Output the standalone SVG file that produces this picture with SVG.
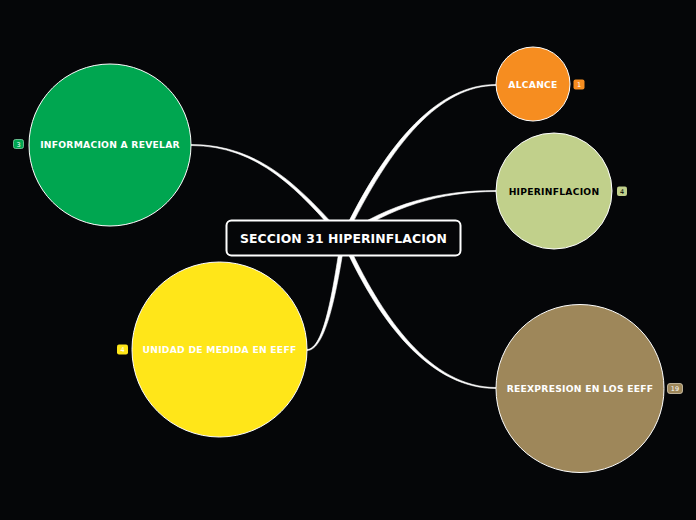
<svg xmlns="http://www.w3.org/2000/svg" width="696" height="520" viewBox="0 0 696 520">
<style>
.lbl{font-family:"DejaVu Sans","Verdana",sans-serif;font-weight:bold;font-size:9.2px;letter-spacing:0.25px;text-anchor:middle}
.badge{font-family:"DejaVu Sans",sans-serif;font-size:6.5px;text-anchor:middle}
.node{stroke:#ffffff;stroke-width:1}
.conn{fill:#ffffff;stroke:#ffffff;stroke-width:0.6}
</style>
<rect x="0" y="0" width="696" height="520" fill="#050608"/>
<g id="connectors">
<path class="conn" d="M341.2,237.1 C388,139 439,84.5 496,84.5 L496,85.5 C441,85.5 392,141 344.8,238.9 Z"/>
<path class="conn" d="M341.9,236.4 C389,203 440,190.5 496,190.5 L496,191.5 C440,191.5 391,207 344.1,239.6 Z"/>
<path class="conn" d="M344.8,237.2 C382,319 431,387.5 496,387.5 L496,388.5 C429,388.5 378,321 341.2,238.8 Z"/>
<path class="conn" d="M345,238.3 C337,290 326,350.5 307,350.5 L307,349.5 C324,349.5 333,290 341,237.7 Z"/>
<path class="conn" d="M344.5,236.7 C301,189 261,144.5 191,144.5 L191,145.5 C259,145.5 299,191 341.5,239.3 Z"/>
</g>
<g id="center">
<rect x="226.5" y="220.5" width="234" height="35" rx="5" fill="#050608" stroke="#ffffff" stroke-width="2"/>
<text x="343.5" y="243" class="lbl" style="font-size:12.4px;letter-spacing:0.1px" fill="#ffffff">SECCION 31 HIPERINFLACION</text>
</g>
<g id="informacion">
<circle class="node" cx="110" cy="145" r="81" fill="#00a650"/>
<text x="110" y="148" class="lbl" fill="#ffffff">INFORMACION A REVELAR</text>
<rect x="13.5" y="139.5" width="10" height="9" rx="2" fill="#00a650" stroke="#7fd3a6" stroke-width="0.8"/>
<text x="18.5" y="146.5" class="badge" fill="#ffffff">3</text>
</g>
<g id="unidad">
<circle class="node" cx="219.5" cy="349.5" r="87.5" fill="#ffe619"/>
<text x="219.5" y="353" class="lbl" fill="#ffffff">UNIDAD DE MEDIDA EN EEFF</text>
<rect x="117" y="344.5" width="11" height="10" rx="2" fill="#ffe619"/>
<text x="122.5" y="351.9" class="badge" fill="#ffffff">4</text>
</g>
<g id="alcance">
<circle class="node" cx="533" cy="84" r="37" fill="#f68d20"/>
<text x="533" y="88" class="lbl" fill="#ffffff">ALCANCE</text>
<rect x="573.5" y="79.5" width="11" height="10" rx="2" fill="#f68d20"/>
<text x="579" y="86.9" class="badge" fill="#ffffff">1</text>
</g>
<g id="hiperinflacion">
<circle class="node" cx="554" cy="191" r="58" fill="#c1d08b"/>
<text x="554" y="195" class="lbl" fill="#000000">HIPERINFLACION</text>
<rect x="617" y="186.5" width="10" height="9.5" rx="2" fill="#c1d08b"/>
<text x="622" y="193.8" class="badge" fill="#000000">4</text>
</g>
<g id="reexpresion">
<circle class="node" cx="580" cy="388.5" r="84" fill="#9e875a"/>
<text x="580" y="392" class="lbl" fill="#ffffff">REEXPRESION EN LOS EEFF</text>
<rect x="667.5" y="383.5" width="15" height="10" rx="2.5" fill="#9e875a" stroke="#d8ccb4" stroke-width="0.8"/>
<text x="675" y="390.9" class="badge" fill="#ffffff">19</text>
</g>
</svg>
